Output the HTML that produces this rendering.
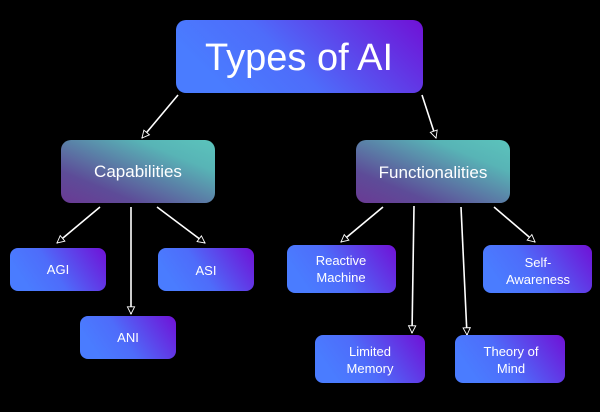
<!DOCTYPE html>
<html><head><style>
body{margin:0;background:#000;}
</style></head><body>
<svg width="600" height="412" viewBox="0 0 600 412" xmlns="http://www.w3.org/2000/svg" style="display:block">
<defs>
<linearGradient id="bp" x1="0" y1="0.3" x2="1" y2="0">
<stop offset="0" stop-color="#4a7cff"/><stop offset="0.35" stop-color="#4e6cfa"/><stop offset="1" stop-color="#7011d6"/></linearGradient>
<linearGradient id="pt" x1="0" y1="1" x2="1" y2="0">
<stop offset="0" stop-color="#6a3a94"/><stop offset="0.25" stop-color="#5d4c98"/><stop offset="0.75" stop-color="#58b4b6"/><stop offset="1" stop-color="#5bc4bc"/></linearGradient>
<marker id="a" viewBox="0 0 10 10" refX="9" refY="5" markerWidth="9" markerHeight="9" orient="auto" markerUnits="userSpaceOnUse">
<path d="M1,1 L9,5 L1,9 Z" fill="#000" stroke="#fff" stroke-width="1"/></marker>
</defs>
<g stroke="#fff" stroke-width="1.6" fill="none" marker-end="url(#a)">
<line x1="178" y1="95" x2="142" y2="138"/>
<line x1="422" y1="95" x2="436" y2="138"/>
<line x1="100" y1="207" x2="57" y2="243"/>
<line x1="131" y1="207" x2="131" y2="314"/>
<line x1="157" y1="207" x2="205" y2="243"/>
<line x1="383" y1="207" x2="341" y2="242"/>
<line x1="414" y1="206" x2="412" y2="333"/>
<line x1="461" y1="207" x2="467" y2="335"/>
<line x1="494" y1="207" x2="535" y2="242"/>
</g>
<g font-family="Liberation Sans, sans-serif" fill="#fff" text-anchor="middle">
<rect x="176" y="20" width="247" height="73" rx="10" fill="url(#bp)"/>
<text x="299" y="70" font-size="38">Types of AI</text>
<rect x="61" y="140" width="154" height="63" rx="10" fill="url(#pt)"/>
<text x="138" y="177" font-size="17">Capabilities</text>
<rect x="356" y="140" width="154" height="63" rx="10" fill="url(#pt)"/>
<text x="433" y="178" font-size="17">Functionalities</text>
<rect x="10" y="248" width="96" height="43" rx="8" fill="url(#bp)"/>
<text x="58" y="274" font-size="13">AGI</text>
<rect x="158" y="248" width="96" height="43" rx="8" fill="url(#bp)"/>
<text x="206" y="275" font-size="13">ASI</text>
<rect x="80" y="316" width="96" height="43" rx="8" fill="url(#bp)"/>
<text x="128" y="342" font-size="13">ANI</text>
<rect x="287" y="245" width="109" height="48" rx="8" fill="url(#bp)"/>
<text x="341" y="265" font-size="13">Reactive</text><text x="341" y="282" font-size="13">Machine</text>
<rect x="483" y="245" width="109" height="48" rx="8" fill="url(#bp)"/>
<text x="538" y="267" font-size="13">Self-</text><text x="538" y="284" font-size="13">Awareness</text>
<rect x="315" y="335" width="110" height="48" rx="8" fill="url(#bp)"/>
<text x="370" y="356" font-size="13">Limited</text><text x="370" y="373" font-size="13">Memory</text>
<rect x="455" y="335" width="110" height="48" rx="8" fill="url(#bp)"/>
<text x="511" y="356" font-size="13">Theory of</text><text x="511" y="373" font-size="13">Mind</text>
</g>
</svg>
</body></html>
